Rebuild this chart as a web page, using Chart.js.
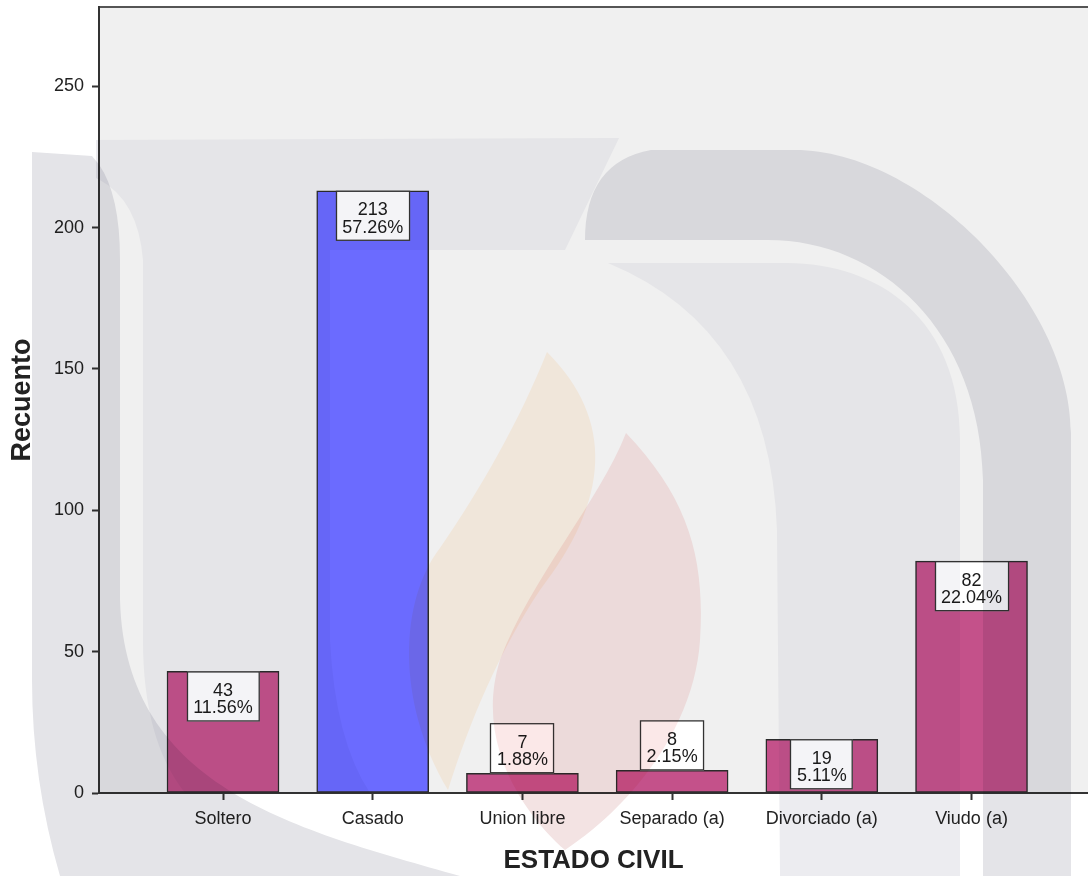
<!DOCTYPE html>
<html>
<head>
<meta charset="utf-8">
<title>ESTADO CIVIL</title>
<script src="https://cdn.jsdelivr.net/npm/chart.js@4.4.1/dist/chart.umd.min.js"></script>
<style>
  html, body { margin: 0; padding: 0; background: #fff; }
  #chart { display: block; }
</style>
</head>
<body>
<canvas id="chart" width="1088" height="876"></canvas>
<script>
// values
const categories = ['Soltero', 'Casado', 'Union libre', 'Separado (a)', 'Divorciado (a)', 'Viudo (a)'];
const counts = [43, 213, 7, 8, 19, 82];
const percents = [11.56, 57.26, 1.88, 2.15, 5.11, 22.04];
const yTicks = [0, 50, 100, 150, 200, 250];

const magenta = '#c4518a';
const blue = '#6b6bff';
const font = "'Liberation Sans', Arial, sans-serif";

Chart.defaults.font.family = font;

// plot background + top frame line
const plotBackground = {
    id: 'plotBackground',
    beforeDraw(chart) {
        const {ctx, chartArea: a} = chart;
        ctx.save();
        ctx.fillStyle = '#f0f0f0';
        ctx.fillRect(a.left, a.top, a.right - a.left, a.bottom - a.top);
        ctx.strokeStyle = '#555';
        ctx.lineWidth = 2;
        ctx.beginPath();
        ctx.moveTo(a.left, a.top);
        ctx.lineTo(a.right, a.top);
        ctx.stroke();
        ctx.restore();
    }
};

// count / percent boxes on each bar
const barLabels = {
    id: 'barLabels',
    afterDatasetsDraw(chart) {
        const ctx = chart.ctx;
        const meta = chart.getDatasetMeta(0);
        ctx.save();
        ctx.font = '18px ' + font;
        meta.data.forEach((bar, i) => {
            const l1 = String(counts[i]);
            const l2 = percents[i].toFixed(2) + '%';
            const w = Math.max(ctx.measureText(l1).width, ctx.measureText(l2).width) + 13;
            const h = 50;
            const barH = bar.base - bar.y;
            const top = barH >= h ? bar.y : bar.y - h;
            const left = Math.round(bar.x - w / 2);
            ctx.fillStyle = '#ffffff';
            ctx.fillRect(left, top, w, h);
            ctx.strokeStyle = '#333';
            ctx.lineWidth = 1.3;
            ctx.strokeRect(left + 0.5, top + 0.5, w - 1, h - 1);
            ctx.fillStyle = '#1a1a1a';
            ctx.textAlign = 'center';
            ctx.textBaseline = 'alphabetic';
            ctx.fillText(l1, bar.x, top + 24.5);
            ctx.fillText(l2, bar.x, top + 42);
        });
        ctx.restore();
    }
};

// faint university watermark laid over the page
function markShapes(ctx, c) {
    // left outer band
    ctx.fillStyle = c.dark;
    ctx.beginPath();
    ctx.moveTo(32, 152);
    ctx.lineTo(92, 156);
    ctx.quadraticCurveTo(120, 185, 120, 260);
    ctx.lineTo(120, 600);
    ctx.bezierCurveTo(125, 790, 300, 830, 460, 876);
    ctx.lineTo(60, 876);
    ctx.quadraticCurveTo(32, 780, 32, 680);
    ctx.closePath();
    ctx.fill();

    // top band + left leg
    ctx.fillStyle = c.light;
    ctx.beginPath();
    ctx.moveTo(96, 140);
    ctx.lineTo(619, 138);
    ctx.lineTo(565, 250);
    ctx.lineTo(330, 250);
    ctx.lineTo(330, 640);
    ctx.quadraticCurveTo(335, 740, 370, 793);
    ctx.lineTo(185, 793);
    ctx.quadraticCurveTo(143, 740, 143, 640);
    ctx.lineTo(143, 260);
    ctx.quadraticCurveTo(138, 198, 96, 178);
    ctx.closePath();
    ctx.fill();

    // outer right arch
    ctx.fillStyle = c.dark;
    ctx.beginPath();
    ctx.moveTo(651, 150);
    ctx.lineTo(795, 150);
    ctx.bezierCurveTo(920, 150, 1071, 300, 1071, 433);
    ctx.lineTo(1071, 876);
    ctx.lineTo(983, 876);
    ctx.lineTo(983, 480);
    ctx.bezierCurveTo(980, 330, 880, 240, 768, 240);
    ctx.lineTo(585, 240);
    ctx.quadraticCurveTo(585, 162, 651, 150);
    ctx.closePath();
    ctx.fill();

    // inner right arch
    ctx.fillStyle = c.light;
    ctx.beginPath();
    ctx.moveTo(608, 263);
    ctx.lineTo(786, 263);
    ctx.bezierCurveTo(880, 263, 960, 320, 960, 440);
    ctx.lineTo(960, 876);
    ctx.lineTo(780, 876);
    ctx.lineTo(777, 530);
    ctx.quadraticCurveTo(770, 330, 608, 263);
    ctx.closePath();
    ctx.fill();

    // orange flame
    ctx.fillStyle = c.orange;
    ctx.beginPath();
    ctx.moveTo(547, 352);
    ctx.bezierCurveTo(615, 420, 610, 500, 540, 590);
    ctx.bezierCurveTo(500, 650, 470, 720, 448, 790);
    ctx.bezierCurveTo(395, 700, 400, 600, 440, 548);
    ctx.bezierCurveTo(480, 490, 520, 420, 547, 352);
    ctx.closePath();
    ctx.fill();

    // red flame
    ctx.fillStyle = c.red;
    ctx.beginPath();
    ctx.moveTo(626, 433);
    ctx.bezierCurveTo(690, 500, 705, 560, 700, 640);
    ctx.bezierCurveTo(695, 720, 640, 800, 565, 850);
    ctx.bezierCurveTo(520, 810, 475, 740, 500, 660);
    ctx.bezierCurveTo(530, 580, 600, 500, 626, 433);
    ctx.closePath();
    ctx.fill();
}

const watermark = {
    id: 'watermark',
    afterDraw(chart) {
        const {ctx, chartArea: a, width, height} = chart;
        ctx.save();
        ctx.globalCompositeOperation = 'multiply';
        // inside the plot
        ctx.save();
        ctx.beginPath();
        ctx.rect(a.left, a.top, a.right - a.left, a.bottom - a.top);
        ctx.clip();
        markShapes(ctx, {light: '#f4f4f7', dark: '#e6e6ea', orange: '#fff5e8', red: '#fbe8e8'});
        ctx.restore();
        // outside the plot
        ctx.save();
        ctx.beginPath();
        ctx.rect(0, 0, width, height);
        ctx.rect(a.left, a.top, a.right - a.left, a.bottom - a.top);
        ctx.clip('evenodd');
        markShapes(ctx, {light: '#ececf0', dark: '#e4e4e8', orange: '#f6ece2', red: '#f3e3e3'});
        ctx.restore();
        ctx.restore();
    }
};

const points = counts.map((v, i) => ({x: i, y: v}));
const maxCount = Math.max(...counts);

new Chart(document.getElementById('chart'), {
    type: 'bar',
    data: {
        datasets: [{
            data: points,
            backgroundColor: counts.map(v => v === maxCount ? blue : magenta),
            borderColor: '#2b2b2b',
            borderWidth: 1.5,
            borderSkipped: false,
            barThickness: 112
        }]
    },
    options: {
        responsive: false,
        animation: false,
        devicePixelRatio: 1,
        layout: {padding: {top: 7, right: 0, bottom: 0, left: 0}},
        plugins: {
            legend: {display: false},
            tooltip: {enabled: false}
        },
        scales: {
            x: {
                type: 'linear',
                offset: false,
                min: -0.8283,
                max: 5.778,
                afterBuildTicks: s => { s.ticks = categories.map((c, i) => ({value: i})); },
                afterFit: s => { s.height = 83; s.paddingLeft = 0; s.paddingRight = 0; },
                ticks: {
                    callback: v => categories[v],
                    font: {size: 18},
                    color: '#222',
                    padding: 8,
                    autoSkip: false,
                    maxRotation: 0
                },
                grid: {offset: false, drawOnChartArea: false, tickLength: 7, tickWidth: 2, tickColor: '#333'},
                border: {color: '#333', width: 2},
                title: {
                    display: true,
                    text: 'ESTADO CIVIL',
                    font: {size: 26, weight: 'bold'},
                    color: '#222',
                    padding: {top: 0, bottom: 0}
                }
            },
            y: {
                min: 0,
                max: 278,
                afterBuildTicks: s => { s.ticks = yTicks.map(v => ({value: v})); },
                afterFit: s => { s.width = 99; s.paddingTop = 0; s.paddingBottom = 0; },
                ticks: {
                    font: {size: 18},
                    color: '#222',
                    padding: 8
                },
                grid: {drawOnChartArea: false, tickLength: 7, tickWidth: 2, tickColor: '#333'},
                border: {color: '#333', width: 2},
                title: {
                    display: true,
                    text: 'Recuento',
                    font: {size: 27, weight: 'bold'},
                    color: '#222',
                    padding: {top: 6, bottom: 0}
                }
            }
        }
    },
    plugins: [plotBackground, barLabels, watermark]
});
</script>
</body>
</html>
